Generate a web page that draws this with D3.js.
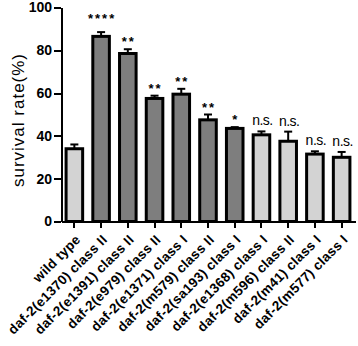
<!DOCTYPE html>
<html lang="en">
  <head>
    <meta charset="utf-8">
    <title>survival rate</title>
    <script src="https://cdn.jsdelivr.net/npm/d3@7/dist/d3.min.js"></script>
  </head>
  <style>
    body { margin: 0; background: #fff; }
    .axis path, .axis line { stroke: #000; stroke-width: 2px; shape-rendering: crispEdges; }
    .axis text { font-family: "Liberation Sans", Arial, sans-serif; font-weight: bold; fill: #000; }
  </style>
  <body>
    <div id="chart"></div>
    <script>
      const width = 358;
      const height = 346;

      // data
      const strains = ['wild type', 'daf-2(e1370) class II', 'daf-2(e1391) class II', 'daf-2(e979) class II',
        'daf-2(e1371) class I', 'daf-2(m579) class II', 'daf-2(sa193) class I', 'daf-2(e1368) class I',
        'daf-2(m596) class II', 'daf-2(m41) class I', 'daf-2(m577) class I'];
      const survival = [34, 86.5, 78.5, 57.5, 59.5, 47.5, 43.5, 40.5, 37.5, 31.5, 30];
      const sem = [2, 2, 2, 1.3, 2.5, 2.5, 0.6, 1.6, 4.5, 1.3, 2.5];
      const significance = ['', '****', '**', '**', '**', '**', '*', 'n.s.', 'n.s.', 'n.s.', 'n.s.'];
      const darkBar = [false, true, true, true, true, true, true, false, false, false, false];
      const yTicks = [0, 20, 40, 60, 80, 100];

      const svg = d3.select('#chart').append('svg')
        .attr('width', width)
        .attr('height', height);

      const x = d3.scaleBand()
        .domain(strains)
        .range([61, 355])
        .paddingInner(0.38)
        .paddingOuter(0.19);

      const y = d3.scaleLinear()
        .domain([0, 100])
        .range([221.5, 7.5]);

      // bars
      svg.selectAll('rect.bar')
        .data(strains)
        .enter()
        .append('rect')
        .attr('class', 'bar')
        .attr('x', d => x(d))
        .attr('y', (d, i) => y(survival[i]))
        .attr('width', x.bandwidth())
        .attr('height', (d, i) => y(0) - y(survival[i]))
        .attr('fill', (d, i) => darkBar[i] ? '#7e7e7e' : '#d3d3d3')
        .attr('stroke', '#000')
        .attr('stroke-width', 3);

      // error bars (upper only)
      const err = svg.append('g').attr('stroke', '#000').attr('stroke-width', 2);
      strains.forEach((d, i) => {
        const cx = x(d) + x.bandwidth() / 2;
        err.append('line')
          .attr('x1', cx).attr('x2', cx)
          .attr('y1', y(survival[i])).attr('y2', y(survival[i] + sem[i]));
        err.append('line')
          .attr('x1', cx - 4).attr('x2', cx + 4)
          .attr('y1', y(survival[i] + sem[i])).attr('y2', y(survival[i] + sem[i]));
      });

      // significance marks
      const isNs = s => s === 'n.s.';
      svg.selectAll('text.sig')
        .data(strains)
        .enter()
        .append('text')
        .attr('class', 'sig')
        .attr('x', d => x(d) + x.bandwidth() / 2 + 1)
        .attr('y', (d, i) => {
          const top = y(survival[i] + sem[i]);
          if (isNs(significance[i])) return top - 6;
          return top - (significance[i].length > 2 ? 9 : 3);
        })
        .attr('text-anchor', 'middle')
        .style('font-family', '"Liberation Sans", Arial, sans-serif')
        .style('font-size', (d, i) => isNs(significance[i]) ? '14px' : '13px')
        .style('font-weight', (d, i) => isNs(significance[i]) ? 'normal' : 'bold')
        .style('letter-spacing', (d, i) => isNs(significance[i]) ? '-0.5px' : '2px')
        .text((d, i) => significance[i]);

      // axes
      svg.append('g')
        .attr('class', 'axis')
        .attr('transform', `translate(61,0)`)
        .call(d3.axisLeft(y).tickValues(yTicks).tickSize(7).tickPadding(2).tickSizeOuter(0))
        .selectAll('text')
        .style('font-size', '14px');

      const xAxis = svg.append('g')
        .attr('class', 'axis')
        .attr('transform', `translate(0,${y(0)})`)
        .call(d3.axisBottom(x).tickSize(6).tickSizeOuter(0));

      xAxis.selectAll('text')
        .attr('y', 0)
        .attr('dy', 0)
        .attr('transform', 'translate(7,19) rotate(-45)')
        .attr('text-anchor', 'end')
        .style('font-size', '13.5px')
        .style('letter-spacing', '0.3px');

      // y label
      svg.append('text')
        .attr('transform', `translate(24,${(48 + 192) / 2}) rotate(-90)`)
        .attr('text-anchor', 'middle')
        .style('font-family', '"Liberation Sans", Arial, sans-serif')
        .style('font-size', '17px')
        .style('letter-spacing', '1px')
        .text('survival rate(%)');
    </script>
  </body>
</html>
